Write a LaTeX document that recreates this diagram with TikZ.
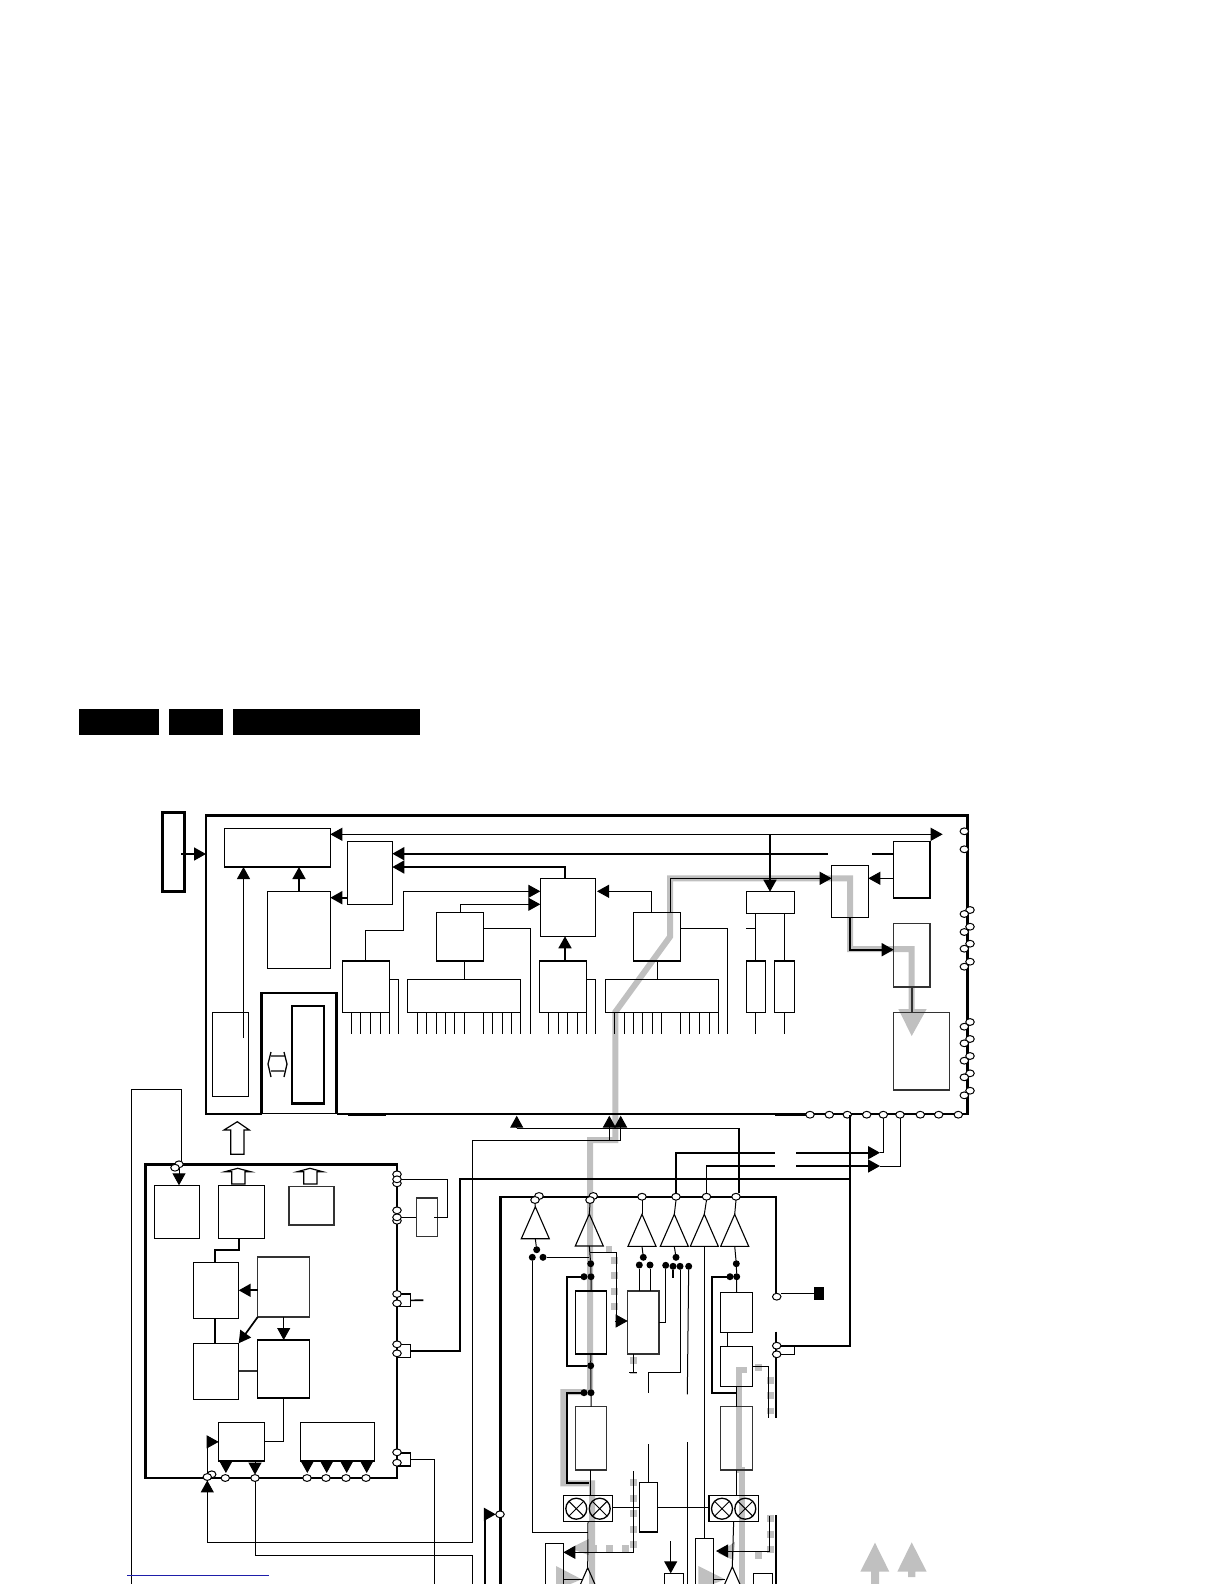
\documentclass[tikz,border=0pt]{standalone}
\usetikzlibrary{arrows.meta,shapes.geometric}
\definecolor{bandgrey}{RGB}{192,192,192}
\definecolor{linkblue}{RGB}{30,30,170}
\tikzset{
  wire/.style={line width=1pt},
  heavy/.style={line width=1.7pt},
  frame/.style={line width=2.6pt},
  box/.style 2 args={draw,line width=1.1pt,inner sep=0pt,outer sep=0pt,anchor=north west,
    minimum width=#1,minimum height=#2},
  tab/.style 2 args={fill=black,inner sep=0pt,outer sep=0pt,anchor=north west,
    minimum width=#1,minimum height=#2},
  band/.style={draw=bandgrey,line width=6pt,miter limit=4},
  dashband/.style={draw=bandgrey,line width=7pt,dash pattern=on 7pt off 8.6pt},
  term/.style={ellipse,draw,fill=white,line width=1pt,inner sep=0pt,outer sep=0pt,
    minimum width=8.5pt,minimum height=6.8pt},
  dot/.style={circle,fill=black,inner sep=0pt,outer sep=0pt,minimum size=7pt},
  amp/.style={isosceles triangle,isosceles triangle stretches,shape border rotate=90,
    draw,line width=1.1pt,inner sep=0pt,outer sep=0pt,anchor=apex,
    minimum width=28pt,minimum height=32pt},
  mix/.style={circle,draw,line width=1.3pt,inner sep=0pt,minimum size=21pt,
    path picture={\draw[line width=1pt]
      (path picture bounding box.south west) -- (path picture bounding box.north east)
      (path picture bounding box.north west) -- (path picture bounding box.south east);}},
  hollow/.style={draw,line width=1.2pt,fill=white,line join=miter}
}
\begin{document}
\begin{tikzpicture}[x=1pt,y=-1pt,>={Triangle[length=12pt,width=13pt]}]
  \clip (0,0) rectangle (1224,1584);

  % Header tabs
  \node[tab={80}{26}] (tabA) at (79,709) {};
  \node[tab={54}{26}] (tabB) at (169,709) {};
  \node[tab={187}{26}] (tabC) at (233,709) {};

  % Grey signal bands
  \draw[band] (911.7,1012) -- (911.7,949) -- (850,949) -- (850,878.3) -- (670,878.3)
    -- (670,936.7) -- (615.3,1012) -- (615.3,1140) -- (590,1140) -- (590,1392)
    -- (563.3,1392) -- (563.3,1483.3) -- (592,1483.3) -- (592,1590);
  \draw[band] (742,1590) -- (742,1470) -- (739,1470) -- (739,1370) -- (747,1370);
  \fill[bandgrey] (898.3,1009) -- (926.7,1009) -- (911.7,1036) -- cycle;
  \fill[bandgrey] (593.3,1536.7) -- (570,1548.3) -- (593.3,1556.7) -- cycle;
  \fill[bandgrey] (735,1541.7) -- (718.3,1553.3) -- (733.3,1560) -- cycle;
  \fill[bandgrey] (556,1566) -- (581.7,1579.3) -- (556,1590) -- cycle;
  \fill[bandgrey] (698.3,1566) -- (725,1579.3) -- (698.3,1590) -- cycle;
  \fill[bandgrey] (875,1542.7) -- (889.3,1571.7) -- (879,1571.7) -- (879,1590)
    -- (871,1590) -- (871,1571.7) -- (860.3,1571.7) -- cycle;
  \fill[bandgrey] (911.7,1542.3) -- (926.7,1571.7) -- (915.3,1571.7) -- (915.3,1577)
    -- (908,1577) -- (908,1571.7) -- (897.3,1571.7) -- cycle;
  \draw[dashband] (605.5,1249) -- (612,1249);
  \draw[dashband] (614.7,1256.5) -- (614.7,1311);
  \draw[dashband] (633,1357) -- (633,1374);
  \draw[dashband] (633,1479) -- (633,1549);
  \draw[dashband] (628.5,1548.7) -- (590,1548.7);
  \draw[dashband] (770,1376.5) -- (770,1414);
  \draw[dashband] (755,1367.7) -- (762,1367.7);
  \draw[dashband] (770,1515) -- (770,1553);
  \draw[dashband] (755,1555) -- (762,1555);

  % Frames
  \draw[frame] (262,1114) -- (206,1114) -- (206,815.3) -- (967.7,815.3) -- (967.7,1114) -- (336.7,1114);
  \draw[frame] (261.7,1114) -- (261.7,993) -- (336.7,993) -- (336.7,1114);
  \draw[wire] (261.7,1113) -- (336.7,1113);
  \draw[frame] (348.3,1115) -- (386,1115);
  \draw[frame] (775,1115) -- (810,1115);
  \draw[frame] (397,1164.3) -- (145.3,1164.3) -- (145.3,1478) -- (397,1478);
  \draw[heavy] (397,1163) -- (397,1479);
  \draw[frame] (500.7,1590) -- (500.7,1197) -- (776,1197) -- (776,1296);
  \draw[frame] (776,1331.7) -- (776,1418.3);
  \draw[frame] (776,1515) -- (776,1590);

  % Top frame blocks
  \node[box={22}{78.6},frame] (feed) at (162.3,812.7) {};
  \node[box={106}{38.7}] (ctrl) at (224.3,828.3) {};
  \node[box={44.6}{63},line width=1.5pt] (mem) at (347.7,841.3) {};
  \node[box={62.6}{77},line width=1.3pt] (rom) at (267.7,891.3) {};
  \node[box={36}{84},line width=.8pt] (supply) at (212.3,1012.3) {};
  \node[box={32}{97.3},frame] (slot) at (292,1006) {};
  \node[box={47}{51.3}] (inA) at (342.3,961) {};
  \node[box={46.6}{48.3},line width=1.3pt] (selA) at (436.7,912.7) {};
  \node[box={113}{33}] (rowA) at (407.3,979.3) {};
  \node[box={55.4}{58}] (proc) at (540.3,878.3) {};
  \node[box={47.4}{51.3}] (inB) at (539.3,961) {};
  \node[box={46.6}{48.3},line width=1.3pt] (selB) at (633.7,912.7) {};
  \node[box={113}{33}] (rowB) at (605.3,979.3) {};
  \node[box={48.4}{21.6},line width=1.3pt] (code) at (746.3,891.7) {};
  \node[box={19}{51.3}] (regA) at (746.3,961) {};
  \node[box={20.4}{51.3}] (regB) at (774.3,961) {};
  \node[box={36.6}{51.6},line width=1.3pt] (sw) at (831.7,865.7) {};
  \node[box={36.3}{56.7},line width=1.3pt] (dac) at (893.7,841.3) {};
  \node[box={36.3}{63.3},draw=black!80] (drv) at (893.7,923.7) {};
  \node[box={55.6}{77.7},draw=black!80] (out) at (893.7,1012.3) {};

  % Lower left blocks
  \node[box={45}{53}] (lpA) at (154.3,1185.3) {};
  \node[box={45.6}{53},line width=1.3pt] (lpB) at (218.7,1185.3) {};
  \node[box={45}{38.7},draw=black!80,line width=1.3pt] (lpC) at (289,1186.3) {};
  \node[box={45.4}{56}] (lpD) at (193.3,1262.3) {};
  \node[box={52}{60},draw=black!80,line width=1.3pt] (lpE) at (257.7,1257) {};
  \node[box={45.4}{56}] (lpF) at (193.3,1343.3) {};
  \node[box={52.4}{58},line width=1.3pt] (lpG) at (257.3,1340) {};
  \node[box={45.6}{38.3}] (lpH) at (218.7,1422.7) {};
  \node[box={74}{38.3}] (lpI) at (300.3,1422.7) {};
  \node[box={21}{38.7},draw=black!80] (lpJ) at (416.3,1198) {};
  \node[box={13.3}{12.7},line width=1.3pt] (plugB) at (397,1294) {};
  \node[box={13.3}{13.4},line width=1.3pt] (plugC) at (397,1344.3) {};
  \node[box={13.3}{13}] (plugD) at (397,1453) {};

  % Tuner blocks
  \node[box={31}{63},line width=1.3pt] (chanU) at (575.3,1291) {};
  \node[box={31}{63.3},draw=black!80,line width=1.2pt] (chanV) at (575.3,1406.7) {};
  \node[box={31.3}{63},draw=black!80,line width=1.2pt] (chanD) at (627.7,1291) {};
  \node[box={31.6}{40},line width=1.3pt] (chanA) at (720.7,1292.3) {};
  \node[box={31.6}{40},line width=1.3pt] (chanB) at (720.7,1346.3) {};
  \node[box={31.6}{63.3},draw=black!80,line width=1.2pt] (chanC) at (720.7,1406.7) {};
  \node[box={49.4}{26.4}] (mixL) at (563.3,1495.3) {};
  \node[box={49.3}{26.4}] (mixR) at (709,1495.3) {};
  \node[box={18}{49.3},line width=1.2pt] (osc) at (639.3,1482.7) {};
  \node[box={18}{60}] (tailL) at (545.3,1543.3) {};
  \node[box={18}{60}] (tailR) at (695.3,1538.3) {};
  \node[box={19}{30}] (tailM) at (664.3,1573.3) {};
  \node[box={19.4}{30},line width=1.3pt] (tailE) at (753.3,1573.3) {};
  \node[tab={10}{13.3}] (pad) at (814,1286.7) {};
  \node[mix] (mixLa) at (576.3,1508.7) {};
  \node[mix] (mixLb) at (599.7,1508.7) {};
  \node[mix] (mixRa) at (722,1508.7) {};
  \node[mix] (mixRb) at (745.3,1508.7) {};
  \node[amp] (ampA) at (535.3,1206.7) {};
  \node[amp] (ampB) at (589.3,1214) {};
  \node[amp] (ampC) at (642,1214.3) {};
  \node[amp] (ampD) at (674.3,1214.3) {};
  \node[amp] (ampE) at (704.3,1214.3) {};
  \node[amp] (ampF) at (734.7,1214.3) {};
  \node[amp] (ampG) at (587.7,1567.7) {};
  \node[amp] (ampH) at (732.3,1566.7) {};

  % Terminals
  \foreach \x/\y in {964.3/831.3,964.3/849.3,970/910,964.3/914,970/926.7,964.3/932,970/943.7,964.3/948.7,
    970/961.7,964.3/966.7,970/1022,964.3/1026.7,970/1039,964.3/1043.3,970/1056,964.3/1060.7,
    970/1073.3,964.3/1077.3,970/1090.7,964.3/1095.3,810/1114.7,829.3/1114.7,866.7/1114.7,
    920.3/1114.7,938.7/1114.7,958.3/1114.7}
    \node[term] at (\x,\y) {};
  \node[term] (botS) at (847.3,1114.7) {};
  \node[term] (botA) at (883.3,1114.7) {};
  \node[term] (botB) at (900,1114.7) {};
  \node[term] (lfA) at (179,1164.3) {};
  \node[term] (lfB) at (175,1167.7) {};
  \node[term] at (211.7,1474.3) {};
  \node[term] (lfC) at (207.3,1477) {};
  \foreach \x in {225.3,307,326,346,366}
    \node[term] at (\x,1478) {};
  \node[term] (lfD) at (255,1478) {};
  \foreach \y in {1174.3,1183.3,1210.3,1220.7,1294,1303.3,1344.3,1353.3,1452.3,1462.7}
    \node[term] at (397,\y) {};
  \node[term] (lpLoop) at (397,1179.3) {};
  \node[term] (lpTap) at (397,1217.3) {};
  \node[term] (pinA) at (539,1196) {};
  \node[term] (pinAb) at (535,1200) {};
  \node[term] (pinB) at (593.3,1196) {};
  \node[term] (pinBb) at (590,1200) {};
  \node[term] (pinC) at (642,1196.7) {};
  \node[term] (pinD) at (676,1196.7) {};
  \node[term] (pinE) at (706.5,1196.7) {};
  \node[term] (pinF) at (736,1196.7) {};
  \node[term] (pinL) at (500,1514.3) {};
  \node[term] (pinR) at (776.7,1296.7) {};
  \node[term] (pinS) at (776.7,1345.7) {};
  \node[term] (pinT) at (776.7,1354.3) {};

  % Dots
  \node[dot] (dA1) at (536.7,1249.7) {};
  \node[dot] (dA2) at (532.3,1257.3) {};
  \node[dot] (dA3) at (543,1257.3) {};
  \node[dot] (dB1) at (590.7,1263.7) {};
  \node[dot] (dB2) at (584,1276.7) {};
  \node[dot] (dB3) at (591,1276.7) {};
  \node[dot] (dC1) at (590.7,1365.7) {};
  \node[dot] (dC2) at (584,1392.7) {};
  \node[dot] (dC3) at (591,1392.7) {};
  \node[dot] (dD1) at (643.3,1257.3) {};
  \node[dot] (dD2) at (639.3,1265) {};
  \node[dot] (dD3) at (650,1265) {};
  \node[dot] (dE1) at (676,1257.3) {};
  \node[dot] (dE2) at (665.7,1265.3) {};
  \node[dot] (dE3) at (673,1266.3) {};
  \node[dot] (dE4) at (680,1266.3) {};
  \node[dot] (dE5) at (688.7,1266.3) {};
  \node[dot] (dF1) at (736.3,1263.7) {};
  \node[dot] (dF2) at (730,1276.7) {};
  \node[dot] (dF3) at (736.7,1276.7) {};

  % Free ends
  \coordinate (feedIn) at (181,854);
  \coordinate (feedEnd) at (206,854);
  \coordinate (busEnd) at (942.7,834.3);
  \coordinate (busDrop) at (770,834.3);
  \coordinate (busF) at (827.7,853.7);
  \coordinate (stubN) at (872.3,853.7);
  \coordinate (jTap) at (565,878.3);
  \coordinate (busG) at (392.3,867);
  \coordinate (supTap) at (243.5,1038);
  \coordinate (toRom) at (330.3,897.7);
  \coordinate (kink) at (403.7,930.3);
  \coordinate (gIn) at (540.3,891.3);
  \coordinate (hIn) at (540.3,904.3);
  \coordinate (hOut) at (483.3,928.3);
  \coordinate (hTail) at (530.7,1034);
  \coordinate (hDrop) at (464.7,970);
  \coordinate (qOut) at (680.3,928.3);
  \coordinate (qTail) at (727.3,1034);
  \coordinate (qTap) at (670,912.7);
  \coordinate (qTapB) at (651.7,912.7);
  \coordinate (qLeft) at (597,891.3);
  \coordinate (fromN) at (893.7,878.3);
  \coordinate (intoO) at (893.7,949.7);
  \coordinate (stubL) at (755.3,928.3);
  \coordinate (gTail) at (398.3,1034);
  \coordinate (kTail) at (595.7,1034);
  \coordinate (outerBase) at (131.7,1590);
  \coordinate (outerTop) at (181.3,1089.7);
  \coordinate (inA2) at (516.7,1115.7);
  \coordinate (inB2) at (609.3,1115.7);
  \coordinate (inC2) at (620.7,1115.7);
  \coordinate (busB) at (739,1128.3);
  \coordinate (busC) at (472,1140.3);
  \coordinate (lowBus) at (207.3,1542.3);
  \coordinate (busD) at (472,1555.3);
  \coordinate (pageEnd) at (0,1590);
  \coordinate (busE) at (460.3,1179);
  \coordinate (sigDrop) at (850,1115);
  \coordinate (gapA) at (775,1152.7);
  \coordinate (gapAr) at (796,1152.7);
  \coordinate (tipA) at (880,1152.7);
  \coordinate (gapB) at (775,1166);
  \coordinate (gapBr) at (796,1166);
  \coordinate (tipB) at (880,1166);
  \coordinate (loopPt) at (447.3,1217.3);
  \coordinate (loopIn) at (434.3,1217.3);
  \coordinate (plugStub) at (423.3,1300.3);
  \coordinate (plugDrop) at (434.3,1590);
  \coordinate (vBase) at (485,1590);
  \coordinate (brk) at (794.3,1345.7);
  \coordinate (bendB) at (215,1249.7);
  \coordinate (turnA) at (566.7,1330);
  \coordinate (turnB) at (566.7,1440);
  \coordinate (jnB) at (589.3,1483.3);
  \coordinate (jnA) at (587.7,1532);
  \coordinate (turnC) at (712,1340);
  \coordinate (jnC) at (735.7,1393.3);
  \coordinate (linkAB) at (727.3,1340);
  \coordinate (stubE) at (673,1278.3);
  \coordinate (bendY) at (648.7,1372.3);
  \coordinate (gapY) at (648.7,1392.7);
  \coordinate (upY) at (648.7,1444);
  \coordinate (gapZ) at (687.3,1394.3);
  \coordinate (upZ) at (687.3,1442.3);
  \coordinate (feedA) at (590,1252.3);
  \coordinate (feedC) at (616.7,1318);
  \coordinate (feedB) at (615,1321);
  \coordinate (tailD) at (633.3,1372.3);
  \coordinate (feedE) at (633.7,1471);
  \coordinate (feedF) at (633.7,1552.3);
  \coordinate (feedG) at (769,1515.7);
  \coordinate (feedH) at (769,1551);
  \coordinate (feedJ) at (670.7,1541.3);
  \coordinate (tailB) at (768.7,1418.3);
  \coordinate (ampLin) at (581.7,1579.3);
  \coordinate (ampRin) at (725,1579.3);

  % Top frame wiring
  \draw[heavy,->] (feedIn) -- (feedEnd);
  \draw[wire,<->] (ctrl.east |- busEnd) -- (busEnd);
  \draw[heavy,->] (busDrop) -- (busDrop |- code.north);
  \draw[heavy,->] (busF) -- (busF -| mem.east);
  \draw[heavy] (stubN) -- (stubN -| dac.west);
  \draw[heavy,->] (jTap) |- (busG);
  \draw[wire,->] (supTap) -- (supTap |- ctrl.south);
  \draw[heavy,->] (rom.north) -- (rom.north |- ctrl.south);
  \draw[heavy,->] (mem.west |- toRom) -- (toRom);
  \draw[wire,->] (inA.north) |- (kink) |- (gIn);
  \draw[wire,->] (selA.north) |- (hIn);
  \draw[wire] (hDrop |- selA.south) -- (hDrop |- rowA.north);
  \draw[wire] (hOut) -| (hTail);
  \draw[wire] (inA.east |- rowA.north) -| (gTail);
  \draw[heavy,->] (jTap |- inB.north) -- (jTap |- proc.south);
  \draw[wire] (inB.east |- rowB.north) -| (kTail);
  \draw[wire] (selB.south) -- (selB.south |- rowB.north);
  \draw[wire,->] (qTapB) |- (qLeft);
  \draw[wire,->] (qTap) |- (fromN -| sw.west);
  \draw[wire] (qOut) -| (qTail);
  \draw[wire] (regA.north) -- (regA.north |- code.south);
  \draw[wire] (regB.north) -- (regB.north |- code.south);
  \draw[wire] (stubL) -- (stubL -| code.west);
  \draw[wire] (regA.south) -- +(0,22);
  \draw[wire] (regB.south) -- +(0,22);
  \draw[wire,->] (fromN) -- (fromN -| sw.east);
  \draw[heavy,->] (sw.south) |- (intoO);
  \draw[heavy,draw=black!80] (drv.south) -- (drv.south |- out.north);
  \foreach \x in {351.3,360.7,370.3,380,389.3,417.3,426.7,436.7,445.7,454.7,464.7,483.3,492.7,502,511.7,520.7,
    548.7,558.3,567.7,577.3,586.7,614.3,624.3,633.7,642.7,652.7,661.3,680.3,689.7,699.3,709,718.3}
    \draw[wire] (\x,1012.3) -- +(0,22);
  \draw[line width=1.3pt] (271,1052) -- (268,1064) -- (271,1077) (284,1052) -- (287,1064) -- (284,1077)
    (271,1056) -- (284,1056) (271,1071) -- (284,1071);

  % Hollow arrows
  \draw[hollow] (237.3,1121.7) -- (249.3,1130) -- (244,1130) -- (244,1154.3) -- (230.7,1154.3)
    -- (230.7,1130) -- (224,1130) -- cycle;
  \draw[hollow] (237.7,1168.3) -- (250.7,1171.7) -- (245,1171.7) -- (245,1184) -- (231.7,1184)
    -- (231.7,1171.7) -- (225,1171.7) -- cycle;
  \draw[hollow] (310,1168.3) -- (322.7,1171.7) -- (317,1171.7) -- (317,1184) -- (303.7,1184)
    -- (303.7,1171.7) -- (297.3,1171.7) -- cycle;

  % Wiring between the frames
  \draw[wire] (outerBase) |- (outerTop) -- (outerTop |- lfA.north);
  \draw[wire,->] (lfA.south) -- (lfA |- lpA.north);
  \draw[wire,->] (inA2 |- busB) -- (inA2);
  \draw[wire,->] (inB2 |- busB) -- (inB2);
  \draw[wire,->] (inC2 |- busB) -- (inC2);
  \draw[wire] (inA2 |- busB) -- (busB);
  \draw[heavy] (busB) -- (busB |- pinF.north);
  \draw[wire] (inC2 |- busB) |- (busC);
  \draw[wire] (inB2 |- busB) -- (inB2 |- busC);
  \draw[wire,->] (busC) |- (lowBus) -- (lfC.south);
  \draw[wire] (lfD.south) |- (busD) -- (busD |- pageEnd);
  \draw[heavy] (plugC.east) -| (busE) -- (busE -| sigDrop);
  \draw[heavy] (sigDrop) |- (pinS.east);
  \draw[heavy] (pinD.north) |- (gapA);
  \draw[heavy] (pinE.north) |- (gapB);
  \draw[heavy,->] (gapAr) -- (tipA);
  \draw[heavy,->] (gapBr) -- (tipB);
  \draw[wire] (botA.south) |- (tipA);
  \draw[wire] (botB.south) |- (tipB);

  % Lower left wiring
  \draw[heavy] (lpB.south -| lpD.east) |- (bendB) -- (bendB |- lpD.north);
  \draw[heavy,->] (lpE.west |- lpD.east) -- (lpD.east);
  \draw[heavy,->] (lpE.south west) -- (lpF.north east);
  \draw[wire,->] (lpE.south) -- (lpE.south |- lpG.north);
  \draw[heavy] (bendB |- lpD.south) -- (bendB |- lpF.north);
  \draw[heavy,draw=black!80] (lpF.east) -- (lpF.east -| lpG.west);
  \draw[wire] (lpG.south) |- (lpH.east);
  \draw[wire,->] (lfC.north) |- (lpH.west);
  \draw[wire,->] (225.9,1461) -- (225.9,1473);
  \draw[wire,->] (lfD.north |- lpH.south) -- (lfD.north);
  \draw[wire,->] (307.3,1461) -- (307.3,1473);
  \draw[wire,->] (326.7,1461) -- (326.7,1473);
  \draw[wire,->] (346.7,1461) -- (346.7,1473);
  \draw[wire,->] (366.7,1461) -- (366.7,1473);
  \draw[wire] (lpLoop.east) -| (loopPt) -- (loopIn);
  \draw[wire] (lpTap.east) -- (lpTap -| lpJ.west);
  \draw[heavy] (plugB.east) -- (plugStub);
  \draw[wire] (plugD.east) -| (plugDrop);
  \draw[heavy,->] (vBase) |- (pinL.west);

  % Tuner wiring
  \draw[wire] (pinAb.south) -- (ampA.apex);
  \draw[wire] (pinBb.south) -- (ampB.apex);
  \draw[wire] (pinC.south) -- (ampC.apex);
  \draw[wire] (pinD.south) -- (ampD.apex);
  \draw[wire] (pinE.south) -- (ampE.apex);
  \draw[wire] (pinF.south) -- (ampF.apex);
  \draw[wire] (ampA.lower side) -- (dA1);
  \draw[wire] (dA2) |- (jnA);
  \draw[wire] (dA3) -- (dA3 -| ampB.apex);
  \draw[wire] (ampB.lower side) -- (dB1) -- (dB3) -- (dB3 |- chanU.north);
  \draw[heavy] (dB2) -| (turnA) |- (dC1);
  \draw[wire] (chanU.south) -- (dC1) -- (dC3) -- (dC3 |- chanV.north);
  \draw[heavy] (dC2) -| (turnB) |- (jnB);
  \draw[wire] (chanV.south) -- (chanV.south |- mixL.north);
  \draw[wire] (mixL.south) -- (ampG.apex);
  \draw[wire] (ampC.lower side) -- (dD1);
  \draw[wire] (dD2) -- (dD2 |- chanD.north);
  \draw[wire] (dD3) -- (dD3 |- chanD.north);
  \draw[wire] (chanD.east) -| (dE2);
  \draw[wire] (ampD.lower side) -- (dE1);
  \draw[heavy] (dE3) -- (stubE);
  \draw[wire] (dE4) |- (bendY) -- (gapY);
  \draw[wire] (dE5) -- (gapZ);
  \draw[wire] (upZ) -- (upZ |- pageEnd);
  \draw[wire] (osc.north) -- (osc.north |- upY);
  \draw[wire] (osc.west) -- (osc.west -| mixL.east);
  \draw[wire] (osc.east) -- (osc.east -| mixR.west);
  \draw[wire] (ampE.lower side) -- (ampE.lower side |- tailR.north);
  \draw[wire] (ampF.lower side) -- (dF1) -- (dF3) -- (dF3 |- chanA.north);
  \draw[heavy] (dF2) -| (turnC) |- (jnC);
  \draw[wire] (linkAB |- chanA.south) -- (linkAB |- chanB.north);
  \draw[wire] (chanB.south) -- (chanC.north);
  \draw[wire] (chanC.south) -- (chanC.south |- mixR.north);
  \draw[wire] (mixR.south) -- (ampH.apex);
  \draw[wire] (chanB.east) -| (tailB);
  \draw[wire] (feedA) -| (feedC);
  \draw[wire,->] (feedB) -- (feedB -| chanD.west);
  \draw[wire] (tailD |- chanD.south) -- (tailD) +(-4,0) -- +(4,0);
  \draw[wire,->] (feedE) |- (feedF -| tailL.east);
  \draw[wire,->,shorten >=2.7pt] (feedG) |- (feedH -| tailR.east);
  \draw[wire,->] (feedJ) -- (feedJ |- tailM.north);
  \draw[wire] (ampLin -| tailL.east) -- (ampLin);
  \draw[wire] (ampRin -| tailR.east) -- (ampRin);
  \draw[wire] (pad.west) -- (pad.west -| pinR.east);
  \draw[wire] (pinT.east) -| (brk);

  % Stray link rule
  \draw[wire,linkblue] (127.3,1575.3) -- (269,1575.3);
\end{tikzpicture}
\end{document}
